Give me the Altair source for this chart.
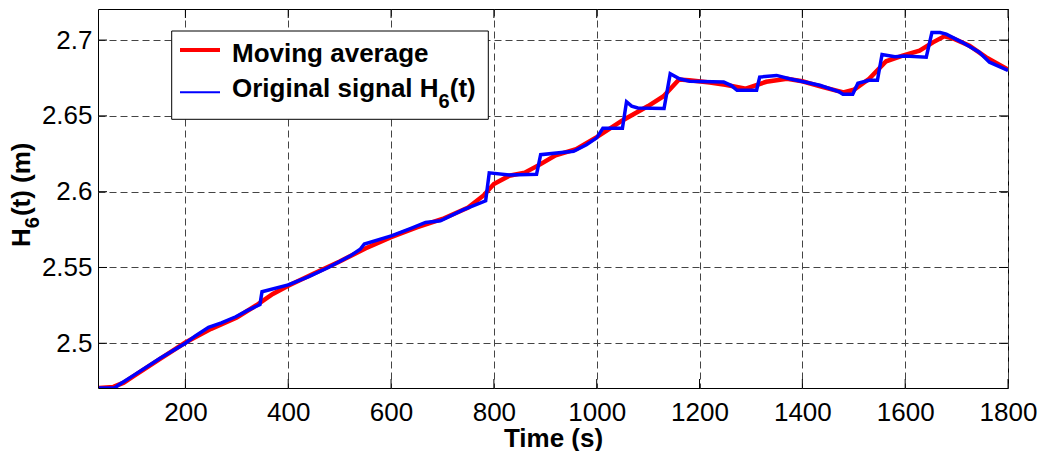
import altair as alt
import pandas as pd

# ---- data ----
ma_t = [32, 60, 80, 100, 150, 200, 250, 300, 340, 370, 400, 450, 500, 550, 600, 650,
        700, 750, 780, 800, 830, 860, 890, 920, 960, 1000, 1050, 1100, 1130, 1160,
        1180, 1220, 1250, 1290, 1330, 1370, 1400, 1440, 1480, 1500, 1530, 1563, 1595,
        1628, 1654, 1676, 1692, 1725, 1757, 1800]
ma_h = [2.4705, 2.4712, 2.4740, 2.4785, 2.4895, 2.5005, 2.5095, 2.5170, 2.5255, 2.5325,
        2.5380, 2.5460, 2.5540, 2.5625, 2.5700, 2.5765, 2.5820, 2.5895, 2.5975, 2.6050,
        2.6105, 2.6125, 2.6180, 2.6240, 2.6280, 2.6360, 2.6470, 2.6565, 2.6630, 2.6740,
        2.6735, 2.6720, 2.6705, 2.6680, 2.6725, 2.6745, 2.6728, 2.6690, 2.6655, 2.6672,
        2.6745, 2.6860, 2.6898, 2.6930, 2.6985, 2.7025, 2.7012, 2.6963, 2.6887, 2.6805]

sig_t = [32, 62, 70, 100, 150, 200, 220, 245, 270, 298, 320, 345, 349, 400, 440, 478,
         520, 540, 548, 602, 640, 667, 696, 740, 784, 791, 830, 883, 891, 955, 980, 1000,
         1012, 1050, 1058, 1068, 1080, 1131, 1143, 1161, 1181, 1247, 1262, 1273, 1311,
         1317, 1350, 1375, 1434, 1472, 1479, 1498, 1508, 1530, 1546, 1555, 1580, 1600,
         1641, 1652, 1668, 1680, 1711, 1744, 1764, 1800]
sig_h = [2.4705, 2.4705, 2.4725, 2.4790, 2.4900, 2.5000, 2.5050, 2.5105, 2.5135, 2.5175,
         2.5215, 2.5255, 2.5340, 2.5385, 2.5440, 2.5500, 2.5575, 2.5620, 2.5655, 2.5710,
         2.5760, 2.5797, 2.5808, 2.5880, 2.5940, 2.6124, 2.6110, 2.6115, 2.6244, 2.6266,
         2.6310, 2.6355, 2.6418, 2.6418, 2.6593, 2.6564, 2.6552, 2.6549, 2.6778, 2.6745,
         2.6728, 2.6723, 2.6700, 2.6669, 2.6669, 2.6756, 2.6767, 2.6745, 2.6702, 2.6658,
         2.6643, 2.6643, 2.6715, 2.6735, 2.6735, 2.6905, 2.6890, 2.6895, 2.6887, 2.7050,
         2.7050, 2.7039, 2.6985, 2.6920, 2.6854, 2.6800]

x_ticks = [200, 400, 600, 800, 1000, 1200, 1400, 1600, 1800]
y_ticks = [2.5, 2.55, 2.6, 2.65, 2.7]
x_domain = [30, 1800]
y_domain = [2.4705, 2.7205]

legend_texts = ["Moving average", "Original signal H", "6", "(t)"]
y_title_parts = ["H", "6", "(t) (m)"]
x_title = "Time (s)"

# ---- styling ----
W, H = 910, 379
FONT = "Liberation Sans"
FS = 26
SUB = 20
TICK = 9
GRID = dict(grid=True, gridDash=[7, 4], gridColor="#444", gridWidth=1, gridOpacity=1)

xs = alt.Scale(domain=x_domain, nice=False, zero=False)
ys = alt.Scale(domain=y_domain, nice=False, zero=False)

x_axis = alt.Axis(values=x_ticks, format="d", ticks=False, tickSize=0, domain=False,
                  labelFont=FONT, labelFontSize=FS, labelColor="black", labelPadding=11,
                  labelFlush=False, labelOverlap=False,
                  title=x_title, titleFont=FONT, titleFontSize=FS, titleFontWeight="bold",
                  titleColor="black", titlePadding=0, **GRID)
y_axis = alt.Axis(values=y_ticks, format="~g", ticks=False, tickSize=0, domain=False,
                  labelFont=FONT, labelFontSize=FS, labelColor="black", labelPadding=6,
                  labelFlush=False, labelOverlap=False, title=None, **GRID)

X = alt.X("t:Q", scale=xs, axis=x_axis)
Y = alt.Y("h:Q", scale=ys, axis=y_axis)

ma = pd.DataFrame({"t": ma_t, "h": ma_h})
sig = pd.DataFrame({"t": sig_t, "h": sig_h})
one = pd.DataFrame({"a": [0]})

ma_line = alt.Chart(ma).mark_line(color="#ff0000", strokeWidth=4.5, clip=True).encode(x=X, y=Y)
sig_line = alt.Chart(sig).mark_line(color="#0000ff", strokeWidth=3.5, clip=True).encode(x=X, y=Y)

xt = pd.DataFrame({"t": x_ticks})
yt = pd.DataFrame({"h": y_ticks})
tick_b = alt.Chart(xt).mark_rule(color="black", strokeWidth=1).encode(
    x=X, y=alt.value(H), y2=alt.value(H - TICK))
tick_t = alt.Chart(xt).mark_rule(color="black", strokeWidth=1).encode(
    x=X, y=alt.value(0), y2=alt.value(TICK))
tick_l = alt.Chart(yt).mark_rule(color="black", strokeWidth=1).encode(
    y=Y, x=alt.value(0), x2=alt.value(TICK))
tick_r = alt.Chart(yt).mark_rule(color="black", strokeWidth=1).encode(
    y=Y, x=alt.value(W - TICK), x2=alt.value(W))

# ---- legend (drawn by hand so the subscript can be shown) ----
LX0, LX1, LY0, LY1 = 73.7, 390.3, 22, 110.3
leg_box = alt.Chart(one).mark_rect(fill="white", stroke="black", strokeWidth=1).encode(
    x=alt.value(LX0), x2=alt.value(LX1), y=alt.value(LY0), y2=alt.value(LY1))
leg_red = alt.Chart(one).mark_rule(color="#ff0000", strokeWidth=4).encode(
    x=alt.value(82), x2=alt.value(122), y=alt.value(41))
leg_blue = alt.Chart(one).mark_rule(color="#0000ff", strokeWidth=2).encode(
    x=alt.value(82), x2=alt.value(122), y=alt.value(83.3))

TX = 134
w_main = 7.947 * FS  # width of "Original signal H" in Arial/Liberation Bold
txt = dict(align="left", baseline="alphabetic", font=FONT, fontWeight="bold", color="black")
leg_t1 = alt.Chart(one).mark_text(fontSize=FS, **txt).encode(
    x=alt.value(TX), y=alt.value(52.7), text=alt.value(legend_texts[0]))
leg_t2 = alt.Chart(one).mark_text(fontSize=FS, **txt).encode(
    x=alt.value(TX), y=alt.value(88.3), text=alt.value(legend_texts[1]))
leg_t3 = alt.Chart(one).mark_text(fontSize=SUB, **txt).encode(
    x=alt.value(TX + w_main), y=alt.value(99), text=alt.value(legend_texts[2]))
leg_t4 = alt.Chart(one).mark_text(fontSize=FS, **txt).encode(
    x=alt.value(TX + w_main + 0.556 * SUB), y=alt.value(88.3), text=alt.value(legend_texts[3]))

# ---- rotated y title with subscript ----
YX, YY = -68, 238
yt1 = alt.Chart(one).mark_text(fontSize=FS, angle=270, **txt).encode(
    x=alt.value(YX), y=alt.value(YY), text=alt.value(y_title_parts[0]))
yt2 = alt.Chart(one).mark_text(fontSize=SUB, angle=270, **txt).encode(
    x=alt.value(YX + 9), y=alt.value(YY - 0.722 * FS), text=alt.value(y_title_parts[1]))
yt3 = alt.Chart(one).mark_text(fontSize=FS, angle=270, **txt).encode(
    x=alt.value(YX), y=alt.value(YY - 0.722 * FS - 0.556 * SUB - 1), text=alt.value(y_title_parts[2]))

chart = alt.layer(
    ma_line, sig_line, tick_b, tick_t, tick_l, tick_r,
    leg_box, leg_red, leg_blue, leg_t1, leg_t2, leg_t3, leg_t4,
    yt1, yt2, yt3,
).properties(
    width=W, height=H,
    autosize=alt.AutoSizeParams(type="none"),
    padding={"left": 90, "top": 1, "right": 29, "bottom": 63},
    background="white",
).configure_view(stroke="black", strokeWidth=1)

chart.save("out.html", embed_options={"renderer": "svg", "actions": False})
